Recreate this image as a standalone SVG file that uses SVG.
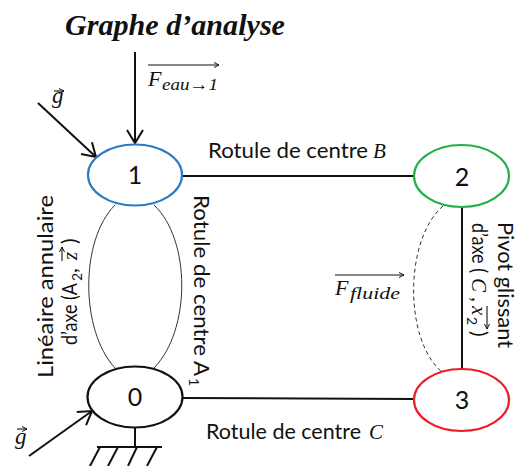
<svg xmlns="http://www.w3.org/2000/svg" width="523" height="466" viewBox="0 0 523 466">
<defs>
<marker id="ah" markerUnits="userSpaceOnUse" markerWidth="20" markerHeight="24" viewBox="-16 -12 20 24" refX="0" refY="0" orient="auto"><path d="M-13,-8 L0,0 L-13,8" fill="none" stroke="#111" stroke-width="2"/></marker>
<marker id="sa" markerUnits="userSpaceOnUse" markerWidth="8" markerHeight="8" viewBox="-6 -4 8 8" refX="0" refY="0" orient="auto"><path d="M-5,-2.5 L0,0 L-5,2.5" fill="none" stroke="#111" stroke-width="1"/></marker>
</defs>
<style>
.sans{font-family:Lato,"Liberation Sans",sans-serif;fill:#111}
.mi{font-family:"Liberation Serif",serif;font-style:italic;fill:#111}
.lbl{font-size:21px}
.num{font-size:25px;text-anchor:middle}
.node{fill:#fff;stroke-width:2.2}
.thin{fill:none;stroke:#333;stroke-width:1}
.edge{stroke:#111;stroke-width:2;fill:none}
.force{stroke:#111;stroke-width:2;fill:none;marker-end:url(#ah)}
.va{stroke:#111;stroke-width:1.1;fill:none;marker-end:url(#sa)}
</style>
<rect width="523" height="466" fill="#fff"/>
<text x="65" y="35" font-family="Liberation Serif,serif" font-weight="bold" font-style="italic" font-size="29" textLength="220" lengthAdjust="spacingAndGlyphs" fill="#111">Graphe d’analyse</text>

<g id="connectors">
<line class="edge" x1="182" y1="176" x2="414" y2="176"/>
<line class="edge" x1="183" y1="398" x2="414" y2="399"/>
<line class="edge" x1="462" y1="207" x2="462" y2="369"/>
<path class="thin" d="M115,205 C80,240 80,330 115,368"/>
<path class="thin" d="M154,205 C191,240 191,330 154,368"/>
<path class="thin" stroke-dasharray="4 3" d="M443,206 C404,240 404,340 442,372"/>
<line class="force" x1="135" y1="52" x2="135" y2="143"/>
<line class="force" x1="38" y1="103" x2="96" y2="157"/>
<line class="force" x1="29" y1="456" x2="92" y2="411"/>
<g id="ground" stroke="#111" stroke-width="2">
<line x1="135" y1="428" x2="135" y2="447"/>
<line x1="97" y1="447" x2="162" y2="447"/>
<line x1="100" y1="447" x2="90" y2="466"/>
<line x1="118" y1="447" x2="108" y2="466"/>
<line x1="137" y1="447" x2="128" y2="466"/>
<line x1="157" y1="447" x2="147" y2="466"/>
</g>
</g>

<g id="node1"><ellipse class="node" cx="135" cy="175" rx="47" ry="30.5" stroke="#2a7bc4"/><text class="sans num" x="135" y="184">1</text></g>
<g id="node0"><ellipse class="node" cx="135" cy="397" rx="47.5" ry="30.5" stroke="#111"/><text class="sans num" x="135" y="406">0</text></g>
<g id="node2"><ellipse class="node" cx="461.5" cy="176" rx="47.5" ry="31" stroke="#22b04b"/><text class="sans num" x="462" y="186">2</text></g>
<g id="node3"><ellipse class="node" cx="461.5" cy="400" rx="47.5" ry="31" stroke="#ee1c25"/><text class="sans num" x="462" y="409">3</text></g>

<g id="labels">
<text class="sans lbl" x="208" y="158" textLength="160" lengthAdjust="spacingAndGlyphs">Rotule de centre</text>
<text class="mi" x="373" y="158" font-size="21">B</text>
<text class="sans lbl" x="206" y="439" textLength="155" lengthAdjust="spacingAndGlyphs">Rotule de centre</text>
<text class="mi" x="369" y="439" font-size="21">C</text>

<text class="mi" x="148" y="86" font-size="22">F</text>
<text class="mi" x="162" y="90" font-size="17" textLength="56" lengthAdjust="spacingAndGlyphs">eau→1</text>
<line class="va" x1="148" y1="65" x2="219" y2="65"/>

<text class="mi" x="335" y="295" font-size="22">F</text>
<text class="mi" x="350" y="299" font-size="17" textLength="50" lengthAdjust="spacingAndGlyphs">fluide</text>
<line class="va" x1="335" y1="275" x2="404" y2="275"/>

<text class="mi" x="52" y="103" font-size="23">g</text>
<line class="va" x1="54" y1="91" x2="64" y2="91"/>
<text class="mi" x="15" y="444" font-size="23">g</text>
<line class="va" x1="17" y1="429" x2="27" y2="429"/>

<g transform="translate(194,195) rotate(90)">
<text class="sans lbl" x="0" y="0" textLength="181" lengthAdjust="spacingAndGlyphs">Rotule de centre A</text>
<text class="sans" x="183" y="5" font-size="14">1</text>
</g>
<g transform="translate(53,378) rotate(-90)">
<text class="sans lbl" x="0" y="0" textLength="183" lengthAdjust="spacingAndGlyphs">Linéaire annulaire</text>
</g>
<g transform="translate(77,345) rotate(-90)">
<text class="sans lbl" x="0" y="0" textLength="62" lengthAdjust="spacingAndGlyphs">d’axe (A</text>
<text class="sans" x="64" y="5" font-size="14">2</text>
<text class="sans lbl" x="72" y="0">,</text>
<text class="mi" x="85" y="0" font-size="21">z</text>
<text class="sans lbl" x="101" y="0">)</text>
<line class="va" x1="84" y1="-15" x2="98" y2="-15"/>
</g>
<g transform="translate(498,222) rotate(90)">
<text class="sans lbl" x="0" y="0" textLength="126" lengthAdjust="spacingAndGlyphs">Pivot glissant</text>
</g>
<g transform="translate(472,223) rotate(90)">
<text class="sans lbl" x="0" y="0" textLength="50" lengthAdjust="spacingAndGlyphs">d’axe (</text>
<text class="mi" x="55" y="0" font-size="21">C</text>
<text class="sans lbl" x="74" y="0">,</text>
<text class="mi" x="83" y="0" font-size="21">x</text>
<text class="sans" x="94" y="5" font-size="14">2</text>
<text class="sans lbl" x="108" y="0">)</text>
<line class="va" x1="83" y1="-15" x2="106" y2="-15"/>
</g>
</g>
</svg>
